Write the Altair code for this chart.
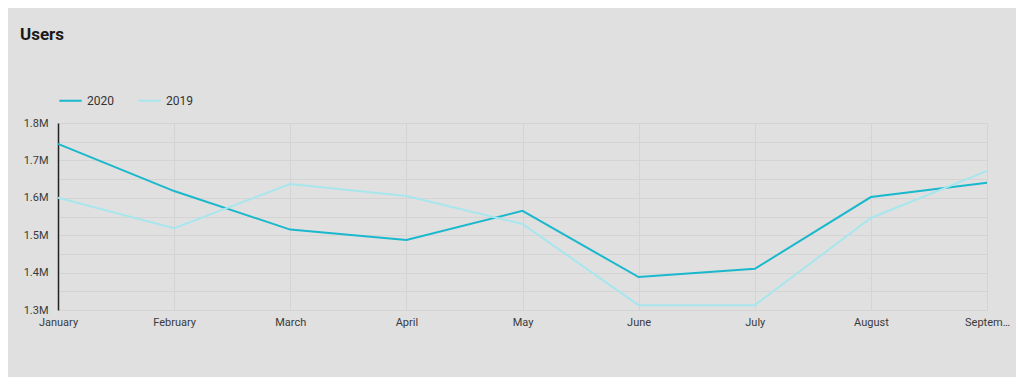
import altair as alt
import pandas as pd

months = ["January", "February", "March", "April", "May", "June", "July", "August", "September"]
users_2020 = [1744000, 1618000, 1515000, 1487000, 1565000, 1388000, 1410000, 1602000, 1640000]
users_2019 = [1600000, 1519000, 1637000, 1605000, 1530000, 1313000, 1313000, 1546000, 1672000]
series = ["2020", "2019"]
colors = ["#1ab8cc", "#a8e6ee"]
y_ticks = [1300000, 1350000, 1400000, 1450000, 1500000, 1550000, 1600000, 1650000, 1700000, 1750000, 1800000]

rows = []
for m, a, b in zip(months, users_2020, users_2019):
    rows.append({"month": m, "year": "2020", "users": a})
    rows.append({"month": m, "year": "2019", "users": b})
df = pd.DataFrame(rows)

chart = alt.Chart(df).mark_line(strokeWidth=2).encode(
    x=alt.X("month:N", sort=months, title=None,
            scale=alt.Scale(type="point", padding=0),
            axis=alt.Axis(labelAngle=0, domain=False, ticks=False, grid=True,
                          gridColor="#d4d4d4", labelFontSize=11, labelColor="#3a3a3a",
                          labelPadding=6, labelLimit=47, labelFont="Roboto")),
    y=alt.Y("users:Q", title=None,
            scale=alt.Scale(domain=[1300000, 1800000], nice=False, zero=False),
            axis=alt.Axis(values=y_ticks, grid=True, gridColor="#d4d4d4",
                          labelExpr="datum.value % 100000 == 0 ? format(datum.value, '.2s') : ''",
                          domain=True, domainColor="#222222", domainWidth=1.5,
                          ticks=False, labelFontSize=11, labelColor="#3a3a3a",
                          labelPadding=10, labelFont="Roboto")),
    color=alt.Color("year:N", sort=series,
                    scale=alt.Scale(domain=series, range=colors),
                    legend=alt.Legend(title=None, orient="none", legendX=0, legendY=-35,
                                      direction="horizontal", symbolType="stroke",
                                      symbolSize=500, symbolStrokeWidth=2,
                                      labelFontSize=12, labelColor="#333333",
                                      labelFont="Roboto", columnPadding=20)),
    order=alt.Order("year:N", sort="ascending"),
).properties(
    width=929,
    height=187,
    padding={"left": 50, "top": 115, "right": 29, "bottom": 67},
    autosize=alt.AutoSizeParams(type="none"),
    background="#e0e0e0",
    title=alt.TitleParams("Users", anchor="start", frame="group", dx=-38, offset=44,
                          fontSize=17, fontWeight="bold", color="#1a1a1a", font="Roboto"),
).configure_view(stroke=None)

chart.save("out.html", embed_options={"renderer": "svg", "actions": False})
